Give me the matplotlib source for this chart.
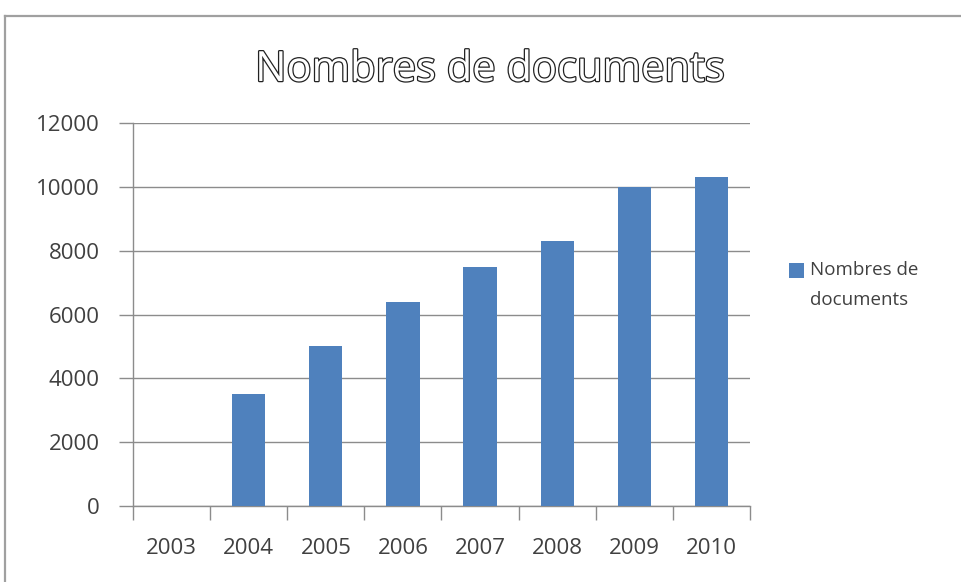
import matplotlib.pyplot as plt
import matplotlib.patheffects as pe
from matplotlib.patches import Rectangle
import numpy as np

years = ["2003", "2004", "2005", "2006", "2007", "2008", "2009", "2010"]
values = [0, 3500, 5000, 6400, 7500, 8300, 10000, 10300]
series_name = "Nombres de documents"
bar_color = "#4F81BD"
grid_color = "#8C8C8C"
text_color = "#404040"

plt.rcParams['font.family'] = ['Open Sans', 'DejaVu Sans']

fig = plt.figure(figsize=(9.62, 5.82), dpi=100)
W, H = 962, 582
ax = fig.add_axes([133 / W, 1 - 506 / H, (750 - 133) / W, (506 - 123) / H])

x = np.arange(len(years))
ax.bar(x, values, width=0.43, color=bar_color, zorder=3)
ax.set_xlim(-0.5, len(years) - 0.5)
ax.set_ylim(0, 12000)
ax.set_yticks(np.arange(0, 12001, 2000))
ax.set_yticklabels([str(v) for v in range(0, 12001, 2000)], fontsize=16, color=text_color)
ax.yaxis.grid(True, color=grid_color, linewidth=1.0, zorder=0)
ax.tick_params(axis='y', length=10, width=1.0, color=grid_color, pad=14)

ax.set_xticks(x)
ax.set_xticklabels(years, fontsize=16, color=text_color)
ax.tick_params(axis='x', length=0, pad=23)
ax.set_xticks(np.arange(-0.5, len(years) + 0.5, 1), minor=True)
ax.tick_params(axis='x', which='minor', length=10, width=1.0, color=grid_color)

for s in ['top', 'right']:
    ax.spines[s].set_visible(False)
for s in ['left', 'bottom']:
    ax.spines[s].set_color(grid_color)
    ax.spines[s].set_linewidth(1.0)

# outer frame
fig.add_artist(plt.Line2D([5 / W, 5 / W], [0, 1 - 16 / H], transform=fig.transFigure, color="#A0A0A0", linewidth=1.6))
fig.add_artist(plt.Line2D([5 / W, 1], [1 - 16 / H, 1 - 16 / H], transform=fig.transFigure, color="#A0A0A0", linewidth=1.6))

# title (outlined)
fig.text(490 / W, 1 - 70 / H, "Nombres de documents", ha='center', va='center', fontsize=30,
         color='white', family=['Open Sans', 'DejaVu Sans'],
         path_effects=[pe.Stroke(linewidth=1.8, foreground='#222222'), pe.Normal()])

# legend
fig.add_artist(Rectangle((789 / W, 1 - 278 / H), 15 / W, 15 / H, transform=fig.transFigure,
                         facecolor=bar_color, edgecolor='none'))
fig.text(810 / W, 1 - 270 / H, "Nombres de", ha='left', va='center', fontsize=13.5, color=text_color)
fig.text(810 / W, 1 - 300 / H, "documents", ha='left', va='center', fontsize=13.5, color=text_color)

fig.savefig("out.png", dpi=100, facecolor='white')
